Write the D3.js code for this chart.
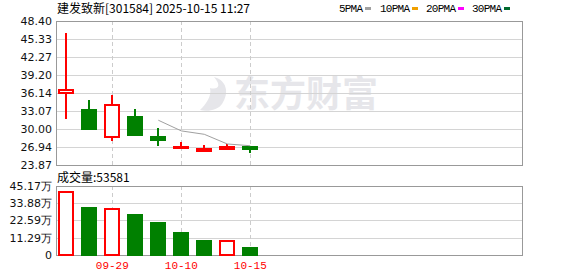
<!DOCTYPE html>
<html>
<meta charset="utf-8">
<script src="https://d3js.org/d3.v7.min.js"></script>
<style>
    body { margin: 0; background: #fff; }
    svg { display: block; }
</style>
<body>
<svg width="578" height="276"></svg>
<script>
    // chart data
    const dates  = ["09-25", "09-26", "09-29", "09-30", "10-09", "10-10", "10-13", "10-14", "10-15"];
    const open   = [36.08, 33.24, 28.59, 32.05, 28.64, 26.80, 26.26, 26.62, 26.95];
    const close  = [36.65, 30.06, 34.04, 29.04, 28.19, 26.92, 26.65, 27.00, 26.62];
    const high   = [46.41, 34.95, 35.80, 33.41, 30.12, 27.79, 27.33, 27.50, 26.98];
    const low    = [31.71, 29.84, 28.02, 29.00, 27.16, 26.75, 26.26, 26.60, 25.97];
    const volume = [417000, 314000, 305700, 268400, 218000, 152700, 100000, 98200, 53581];
    const ma5    = [null, null, null, null, 31.50, 29.68, 29.10, 27.45, 27.15];

    const priceTicks = [48.40, 45.33, 42.27, 39.20, 36.14, 33.07, 30.00, 26.94, 23.87];
    const volTicks = [0, 112900, 225900, 338800, 451700];
    const volTickLabels = ["0", "11.29万", "22.59万", "33.88万", "45.17万"];
    const dateTicks = ["09-29", "10-10", "10-15"];
    const legend = [
        { name: "5PMA", color: "#a0a0a0" },
        { name: "10PMA", color: "#f0a000" },
        { name: "20PMA", color: "#ff00ff" },
        { name: "30PMA", color: "#006a2e" }
    ];
    const title = "建发致新[301584] 2025-10-15 11:27";
    const volTitle = "成交量:53581";

    const RED = "#ff0000", GREEN = "#008000";
    const left = 56, right = 522;
    const p = { top: 21, bottom: 165 };
    const v = { top: 186, bottom: 255 };

    let svg = d3.select("svg");

    let x = d3.scaleBand().domain(d3.range(20)).range([54.8, 514.8]).paddingInner(0.3).paddingOuter(0.15);
    let xc = i => x(i) + x.bandwidth() / 2;
    let y = d3.scaleLinear().domain([23.87, 48.40]).range([p.bottom, p.top]);
    let yv = d3.scaleLinear().domain([0, 451700]).range([v.bottom, v.top]);

    const idx = d3.range(dates.length);
    const up = i => close[i] >= open[i];
    const volUp = i => i === 0 ? close[i] >= open[i] : close[i] >= close[i - 1];
    const px = n => Math.round(n) + 0.5;
    const r0 = n => Math.round(n);

    // title + legend
    svg.append("text").attr("x", 57).attr("y", 13)
        .style("font", "12px 'Noto Sans CJK SC'").style("fill", "#000").text(title);

    let lx = [339, 380, 426, 472];
    let lg = svg.selectAll("g.legend").data(legend).enter().append("g").attr("class", "legend")
        .attr("transform", (d, i) => `translate(${lx[i]},0)`);
    lg.append("text").attr("y", 12).attr("textLength", d => d.name.length * 6)
        .style("font", "11px 'Liberation Mono'").style("fill", "#000").text(d => d.name);
    lg.append("rect").attr("x", d => d.name.length * 6 + 2).attr("y", 7).attr("width", 6).attr("height", 3)
        .style("fill", d => d.color);

    // watermark
    svg.append("text").attr("x", 234).attr("y", 107)
        .style("font", "bold 36px 'Noto Sans CJK SC'").style("fill", "#e6e6ea").text("东方财富");
    svg.append("path")
        .attr("d", "M214,77 C226,80 230,92 222,104 C218,110 208,112 200,110 C206,104 212,96 210,88 C218,90 222,86 214,77 Z")
        .style("fill", "#e6e6ea");

    // price grid
    svg.selectAll("line.pgrid").data(priceTicks.slice(1, -1)).enter().append("line").attr("class", "pgrid")
        .attr("x1", left).attr("x2", right).attr("y1", d => px(y(d))).attr("y2", d => px(y(d)))
        .style("stroke", "#d4d4d4");
    svg.selectAll("line.vgrid").data(volTicks.slice(1, -1)).enter().append("line").attr("class", "vgrid")
        .attr("x1", left).attr("x2", right).attr("y1", d => px(yv(d))).attr("y2", d => px(yv(d)))
        .style("stroke", "#d4d4d4");

    // dashed date lines
    const dateIdx = dateTicks.map(d => dates.indexOf(d));
    [[p.top, p.bottom], [v.top, v.bottom]].forEach(r => {
        svg.append("g").selectAll("line").data(dateIdx).enter().append("line")
            .attr("x1", i => px(xc(i))).attr("x2", i => px(xc(i)))
            .attr("y1", r[0]).attr("y2", r[1])
            .style("stroke", "#cccccc").style("stroke-dasharray", "4,3");
    });

    // panel frames
    [[p.top, p.bottom], [v.top, v.bottom]].forEach(r => {
        svg.append("rect").attr("x", left + 0.5).attr("y", r[0] + 0.5)
            .attr("width", right - left).attr("height", r[1] - r[0])
            .style("fill", "none").style("stroke", "#999");
    });

    // y labels
    const lblFont = "11px 'DejaVu Sans'";
    svg.selectAll("text.py").data(priceTicks).enter().append("text").attr("class", "py")
        .attr("x", 52).attr("y", d => y(d)).attr("dy", "0.36em").attr("text-anchor", "end")
        .style("font", lblFont).style("fill", "#111").text(d => d.toFixed(2));
    svg.selectAll("text.vy").data(volTicks).enter().append("text").attr("class", "vy")
        .attr("x", 52).attr("y", d => yv(d)).attr("dy", "0.36em").attr("text-anchor", "end")
        .style("font", lblFont).style("fill", "#111").text((d, i) => volTickLabels[i]);

    // date labels
    svg.selectAll("text.dt").data(dateIdx).enter().append("text").attr("class", "dt")
        .attr("x", i => xc(i)).attr("y", 269).attr("text-anchor", "middle")
        .style("font", "11px 'Liberation Mono'").style("fill", RED).text(i => dates[i]);

    // candles (2px strokes on whole pixels)
    const bw = Math.round(x.bandwidth());
    let candle = svg.append("g").selectAll("g.candle").data(idx).enter().append("g").attr("class", "candle");
    candle.append("line")
        .attr("x1", i => r0(xc(i))).attr("x2", i => r0(xc(i)))
        .attr("y1", i => r0(y(high[i]))).attr("y2", i => r0(y(low[i])))
        .style("stroke", i => up(i) ? RED : GREEN).style("stroke-width", 2);
    candle.append("rect")
        .attr("x", i => r0(x(i)) + 1).attr("width", bw - 2)
        .attr("y", i => r0(y(Math.max(open[i], close[i]))))
        .attr("height", i => Math.max(1, r0(Math.abs(y(open[i]) - y(close[i])))))
        .style("fill", i => up(i) ? "#fff" : GREEN)
        .style("stroke", i => up(i) ? RED : GREEN).style("stroke-width", 2);

    // MA5
    svg.append("path").datum(idx.filter(i => ma5[i] !== null))
        .attr("d", d3.line().x(i => xc(i)).y(i => y(ma5[i])))
        .style("fill", "none").style("stroke", "#a0a0a0").style("stroke-width", 1);

    // volume
    svg.append("text").attr("x", 57).attr("y", 182)
        .style("font", "12px 'Noto Sans CJK SC'").style("fill", "#000").text(volTitle);
    svg.append("g").selectAll("rect").data(idx).enter().append("rect")
        .attr("x", i => r0(x(i)) + 1).attr("width", bw - 2)
        .attr("y", i => r0(yv(volume[i])) + 1)
        .attr("height", i => v.bottom - 1 - r0(yv(volume[i])))
        .style("fill", i => volUp(i) ? "#fff" : GREEN)
        .style("stroke", i => volUp(i) ? RED : GREEN).style("stroke-width", 2);
</script>
</body>
</html>
